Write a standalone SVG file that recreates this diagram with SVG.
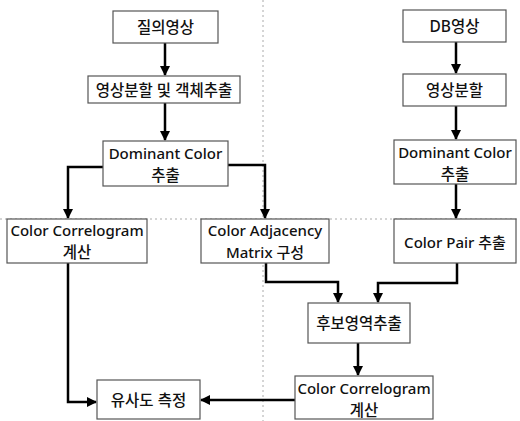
<svg xmlns="http://www.w3.org/2000/svg" width="520" height="421" viewBox="0 0 520 421">
<style>
.box{fill:#fff;stroke:#555;stroke-width:1.2}
.t{font-family:"Noto Sans","Noto Sans CJK KR",sans-serif;font-size:15px;font-weight:500;fill:#111;text-anchor:middle;dominant-baseline:central}
.k{font-size:15.5px}
.c{fill:none;stroke:#000;stroke-width:2.5}
.div{fill:none;stroke:#aaa;stroke-width:1;stroke-dasharray:2 3}
</style>
<defs>
<marker id="ah" viewBox="0 0 10 10" refX="9" refY="5" markerWidth="4" markerHeight="4" orient="auto" markerUnits="strokeWidth">
<path d="M0,0 L10,5 L0,10 z" fill="#000"/>
</marker>
</defs>
<g id="dividers">
<line class="div" x1="263" y1="0" x2="263" y2="421"/>
<line class="div" x1="0" y1="219" x2="520" y2="219"/>
</g>
<g id="connectors">
<path class="c" d="M165,43 V75" marker-end="url(#ah)"/>
<path class="c" d="M165,103 V140" marker-end="url(#ah)"/>
<path class="c" d="M103,167 H68 V218" marker-end="url(#ah)"/>
<path class="c" d="M228,165 H265 V218" marker-end="url(#ah)"/>
<path class="c" d="M68,263 V402 H96" marker-end="url(#ah)"/>
<path class="c" d="M295,400 H201" marker-end="url(#ah)"/>
<path class="c" d="M266,263 V282 H338 V302" marker-end="url(#ah)"/>
<path class="c" d="M457,263 V283 H378 V302" marker-end="url(#ah)"/>
<path class="c" d="M358,343 V375" marker-end="url(#ah)"/>
<path class="c" d="M456,42 V73" marker-end="url(#ah)"/>
<path class="c" d="M456,106 V139" marker-end="url(#ah)"/>
<path class="c" d="M456,184 V218" marker-end="url(#ah)"/>
</g>
<g id="n1"><rect class="box" x="113" y="11" width="105" height="32"/><text class="t k" x="165.5" y="27">질의영상</text></g>
<g id="n2"><rect class="box" x="88" y="76" width="152" height="27"/><text class="t k" x="164" y="89.5">영상분할 및 객체추출</text></g>
<g id="n3"><rect class="box" x="103" y="141" width="125" height="45"/><text class="t" x="165.5" y="153">Dominant Color</text><text class="t k" x="165.5" y="175">추출</text></g>
<g id="n4"><rect class="box" x="7" y="219" width="140" height="44"/><text class="t" x="77" y="230">Color Correlogram</text><text class="t k" x="77" y="252">계산</text></g>
<g id="n5"><rect class="box" x="201" y="219" width="128" height="44"/><text class="t" x="265" y="230">Color Adjacency</text><text class="t" x="265" y="252">Matrix 구성</text></g>
<g id="n6"><rect class="box" x="97" y="380" width="103" height="39"/><text class="t k" x="148.5" y="400">유사도 측정</text></g>
<g id="n7"><rect class="box" x="403" y="10" width="103" height="32"/><text class="t k" x="454.5" y="26">DB영상</text></g>
<g id="n8"><rect class="box" x="403" y="74" width="103" height="32"/><text class="t k" x="454.5" y="90">영상분할</text></g>
<g id="n9"><rect class="box" x="394" y="140" width="122" height="44"/><text class="t" x="455" y="152">Dominant Color</text><text class="t k" x="455" y="174">추출</text></g>
<g id="n10"><rect class="box" x="394" y="219" width="122" height="44"/><text class="t" x="455" y="242">Color Pair 추출</text></g>
<g id="n11"><rect class="box" x="308" y="303" width="102" height="40"/><text class="t k" x="359" y="323">후보영역추출</text></g>
<g id="n12"><rect class="box" x="295" y="376" width="138" height="43"/><text class="t" x="364" y="388">Color Correlogram</text><text class="t k" x="364" y="410">계산</text></g>
</svg>
